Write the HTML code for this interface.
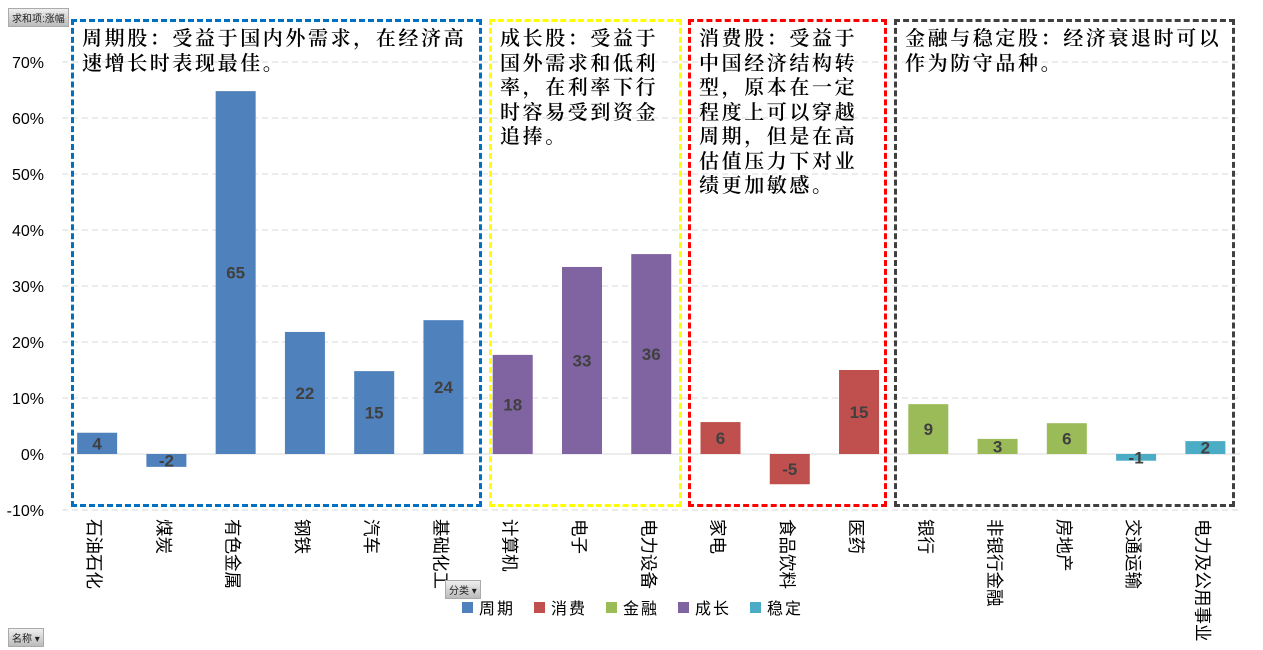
<!DOCTYPE html>
<html><head><meta charset="utf-8"><style>
body{margin:0;background:#fff;width:1263px;height:650px;overflow:hidden;position:relative;font-family:"Liberation Sans","Noto Sans CJK SC",sans-serif}
.box{position:absolute;border:3px dashed;box-sizing:border-box;font-family:"Liberation Serif","Noto Serif CJK SC",serif;font-size:20px;line-height:24.5px;letter-spacing:2.6px;padding:5px 4px 4px 8px;color:#000;font-weight:600}
.btn{position:absolute;background:linear-gradient(#eee,#bbb);font-size:10px;color:#222;padding:1px 3px;border:1px solid #aaa}
</style></head><body>
<div class="btn" style="left:8px;top:8px">求和项:涨幅</div>
<svg id="c" width="1263" height="650" style="position:absolute;left:0;top:0"></svg>
<div class="btn" style="left:445px;top:580px">分类 ▾</div>
<div class="btn" style="left:8px;top:628px">名称 ▾</div>
<div class="box" style="left:71px;top:19px;width:411px;height:488px;border-color:#0070c0">周期股：受益于国内外需求，在经济高速增长时表现最佳。</div>
<div class="box" style="left:489px;top:19px;width:193px;height:488px;border-color:#ffff00">成长股：受益于国外需求和低利率，在利率下行时容易受到资金追捧。</div>
<div class="box" style="left:688px;top:19px;width:199px;height:488px;border-color:#ff0000;padding-right:20px">消费股：受益于中国经济结构转型，原本在一定程度上可以穿越周期，但是在高估值压力下对业绩更加敏感。</div>
<div class="box" style="left:894px;top:19px;width:341px;height:488px;border-color:#404040">金融与稳定股：经济衰退时可以作为防守品种。</div>
<script>
const categories=["石油石化","煤炭","有色金属","钢铁","汽车","基础化工","计算机","电子","电力设备","家电","食品饮料","医药","银行","非银行金融","房地产","交通运输","电力及公用事业"];
const values=[3.8,-2.3,64.8,21.8,14.8,23.9,17.7,33.4,35.7,5.7,-5.4,15,8.9,2.7,5.5,-1.2,2.3];
const groups=[0,0,0,0,0,0,3,3,3,1,1,1,2,2,2,4,4];
const groupNames=["周期","消费","金融","成长","稳定"];
const groupColors=["#4f81bd","#c0504d","#9bbb59","#8064a2","#4bacc6"];
const ticks=[-10,0,10,20,30,40,50,60,70];
const NS="http://www.w3.org/2000/svg",svg=document.getElementById('c');
const x0=62.5,step=(1240-62.5)/categories.length;
const y=v=>454-v*5.6, xc=i=>x0+step*(i+0.5);
function el(t,a,txt){const e=document.createElementNS(NS,t);for(const k in a)e.setAttribute(k,a[k]);if(txt!=null)e.textContent=txt;svg.appendChild(e);return e;}
ticks.forEach(t=>{
 const g=el('line',{x1:62,x2:1240,y1:y(t),y2:y(t),stroke:'#d9d9d9','stroke-dasharray':t===0?'':'6,4'});
 
 
 const l=el('text',{x:44,y:y(t)+6,'text-anchor':'end','font-size':16,fill:'#000'},t+'%');
 
 
});
values.forEach((v,i)=>{
 const b=el('rect',{x:xc(i)-20,y:Math.min(y(v),y(0)),width:40,height:Math.abs(y(v)-y(0)),fill:groupColors[groups[i]]});
 
 
 const t=el('text',{x:xc(i),y:(y(v)+y(0))/2+6,'text-anchor':'middle','font-size':17,'font-weight':'bold',fill:'#404040'},Math.round(v));
 
 
 const c=el('text',{x:0,y:0,'font-size':17.5,fill:'#000','font-family':'Noto Sans CJK SC, sans-serif',transform:`translate(${xc(i)-9},519) rotate(90)`},categories[i]);
 
 
});
let lx=462;
groupNames.forEach((n,i)=>{
 const s=el('rect',{x:lx,y:602,width:11,height:11,fill:groupColors[i]});
 
 
 const t=el('text',{x:lx+17,y:614,'font-size':16,fill:'#000','letter-spacing':2},n);
 
 
 lx+=72;
});
</script>
</body></html>
